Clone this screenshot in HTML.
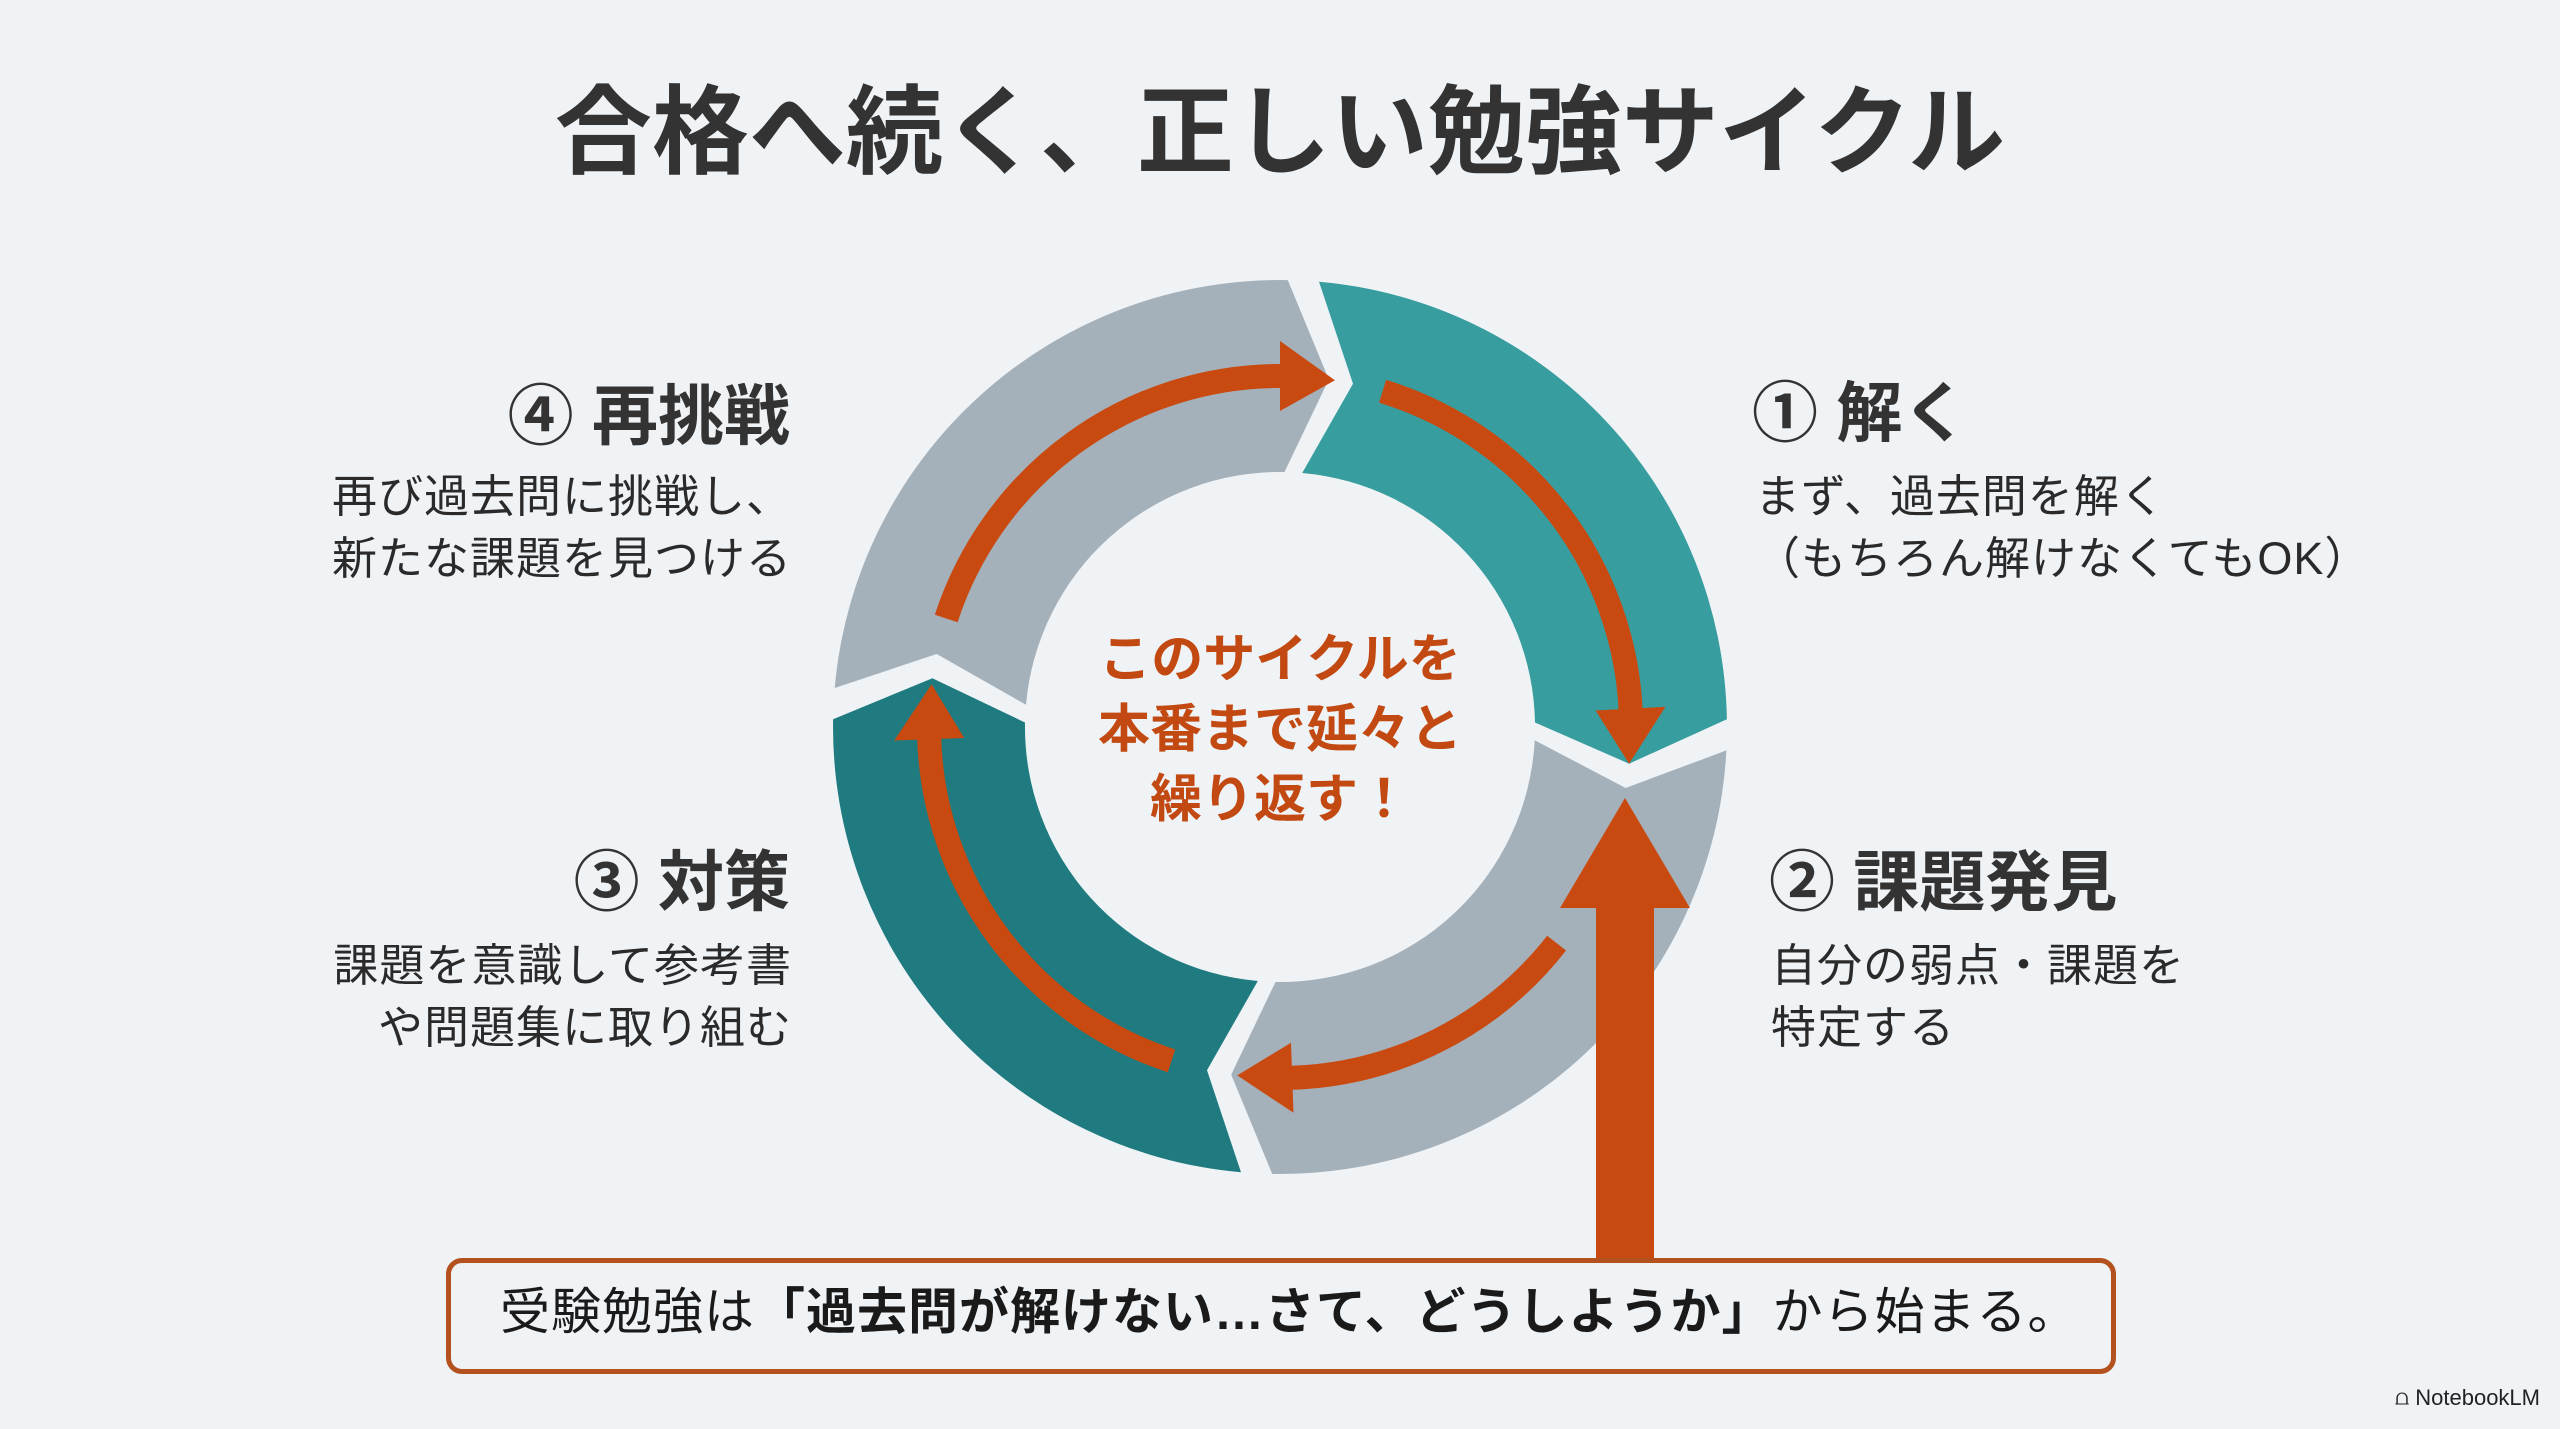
<!DOCTYPE html>
<html><head><meta charset="utf-8">
<style>
html,body{margin:0;padding:0;}
body{width:2560px;height:1429px;background:#f0f3f6;position:relative;overflow:hidden;font-family:"Liberation Sans","Noto Sans CJK JP",sans-serif;color:#2e2e2e;}
.t{position:absolute;white-space:nowrap;}
h1{position:absolute;margin:0;left:0;width:2560px;text-align:center;top:68px;font-size:97px;font-weight:700;color:#333;line-height:130px;}
.hd{font-size:66px;font-weight:700;line-height:80px;color:#333;}
.bd{font-size:45px;line-height:62px;color:#2a2a2a;letter-spacing:1px;}
.r{text-align:right;}
.box{position:absolute;left:446px;top:1258px;width:1660px;height:106px;border:5px solid #b4521f;border-radius:16px;box-sizing:content-box;}
</style></head><body>
<h1>合格へ続く、正しい勉強サイクル</h1>

<div class="t hd r" style="right:1770px;top:376px;">④ 再挑戦</div>
<div class="t bd r" style="right:1768px;top:466px;">再び過去問に挑戦し、<br>新たな課題を見つける</div>
<div class="t hd r" style="right:1770px;top:842px;">③ 対策</div>
<div class="t bd r" style="right:1768px;top:935px;">課題を意識して参考書<br>や問題集に取り組む</div>

<div class="t hd" style="left:1752px;top:373px;">① 解く</div>
<div class="t bd" style="left:1755px;top:466px;">まず、過去問を解く<br>（もちろん解けなくてもOK）</div>
<div class="t hd" style="left:1769px;top:842px;">② 課題発見</div>
<div class="t bd" style="left:1771px;top:935px;">自分の弱点・課題を<br>特定する</div>

<svg id="s" width="2560" height="1429" style="position:absolute;left:0;top:0;"></svg>

<div class="t" style="left:1080px;width:400px;text-align:center;top:625px;font-size:52px;line-height:70px;font-weight:700;color:#c24a12;">このサイクルを<br>本番まで延々と<br>繰り返す！</div>

<div class="box"></div>
<div class="t" style="left:500px;top:1281px;font-size:50px;line-height:62px;color:#1a1a1a;letter-spacing:1px;">受験勉強は<b>「過去問が解けない…さて、どうしようか」</b>から始まる。</div>
<div class="t" style="right:20px;top:1385px;font-size:22px;color:#222;">⩍ NotebookLM</div>

<script>
var cx=1280,cy=727,R=447,r=255,Rm=351;
function P(a,rad){var t=a*Math.PI/180;return (cx+rad*Math.cos(t)).toFixed(1)+","+(cy+rad*Math.sin(t)).toFixed(1);}
var b=[-87,1,93,183,273],g=2,pt=7;
var cols=["#389d9e","#a5b1ba","#1f7b7f","#a5b1ba"];
var s="";
for(var i=0;i<4;i++){
 var a0=b[i]+g,a1=b[i+1]-g;
 var d="M"+P(a0,R)+" A"+R+","+R+" 0 0 1 "+P(a1,R)+" L"+P(a1+pt,Rm)+" L"+P(a1,r)+" A"+r+","+r+" 0 0 0 "+P(a0,r)+" L"+P(a0+pt,Rm)+" Z";
 s+='<path d="'+d+'" fill="'+cols[i]+'"/>';
}
var arrows=[[-73,6],[38,97],[108,187],[-162,-81]];
var hl=9,O="#c94a10";
arrows.forEach(function(a){
 var e=a[1]-hl;
 s+='<path d="M'+P(a[0],Rm)+' A'+Rm+','+Rm+' 0 0 1 '+P(e+0.5,Rm)+'" fill="none" stroke="'+O+'" stroke-width="24"/>';
 s+='<polygon points="'+P(a[1],Rm)+' '+P(e,Rm+35)+' '+P(e,Rm-35)+'" fill="'+O+'"/>';
});
s+='<rect x="1596" y="900" width="58" height="362" fill="#c94a10"/>';
s+='<polygon points="1625,798 1690,908 1560,908" fill="#c94a10"/>';
document.getElementById("s").innerHTML=s;
</script>
</body></html>
